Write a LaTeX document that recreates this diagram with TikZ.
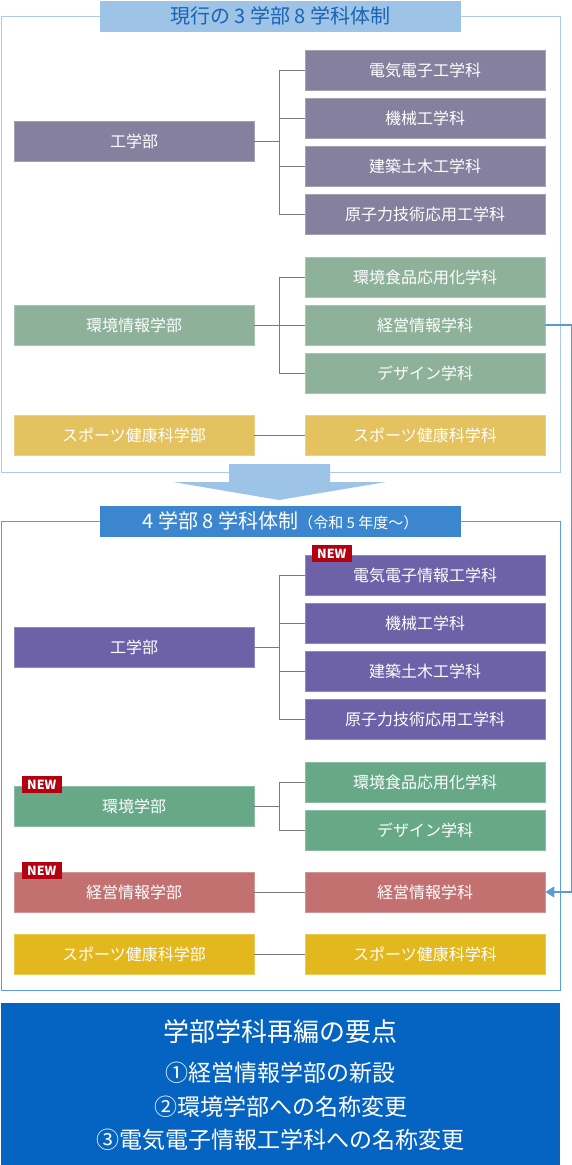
\documentclass[tikz,border=0pt]{standalone}
\usepackage{fontspec}
\setmainfont{Noto Sans CJK JP}
\usetikzlibrary{arrows.meta}

\definecolor{koA}{HTML}{85809E}
\definecolor{kanA}{HTML}{8DB299}
\definecolor{spA}{HTML}{E4C25F}
\definecolor{koB}{HTML}{6D62A8}
\definecolor{kanB}{HTML}{67A987}
\definecolor{keiB}{HTML}{C37071}
\definecolor{spB}{HTML}{E3B81E}
\definecolor{frameA}{HTML}{A9CCEB}
\definecolor{frameB}{HTML}{5E9CD8}
\definecolor{headA}{HTML}{9DC3E6}
\definecolor{headAtext}{HTML}{1B63B5}
\definecolor{headB}{HTML}{3B86CF}
\definecolor{sumblue}{HTML}{0563C1}
\definecolor{newred}{HTML}{B50010}
\definecolor{linegray}{HTML}{7A7A7A}
\definecolor{linkblue}{HTML}{5B9BD5}

\tikzset{
    dept/.style={fill=#1, draw=#1!75!white, line width=0.8pt, minimum width=240pt, minimum height=40pt,
        inner sep=0pt, text=white, font=\fontsize{16}{16}\selectfont},
    tree/.style={draw=linegray, line width=1pt},
    newtag/.style={fill=newred, text=white, font=\bfseries\fontsize{12.5}{12.5}\selectfont,
        minimum width=40pt, minimum height=17pt, inner sep=0pt, anchor=south west},
    headbar/.style={minimum width=361pt, minimum height=31pt, inner sep=0pt, font=\fontsize{20}{20}\selectfont},
    point/.style={text=white, font=\fontsize{23}{23}\selectfont},
}

\begin{document}
\begin{tikzpicture}[x=1pt, y=-1pt]
    \useasboundingbox (0,0) rectangle (572,1165);

    % current organisation
    \draw[frameA, line width=1pt] (1,16) rectangle (560,472);
    \node[headbar, fill=headA, text=headAtext] (headA) at (280.5,16) {現行の 3 学部 8 学科体制};

    \node[dept=koA] (kogakuA) at (134,141) {工学部};
    \node[dept=koA] (denkiA) at (425,70) {電気電子工学科};
    \node[dept=koA] (kikaiA) at (425,118) {機械工学科};
    \node[dept=koA] (kenchikuA) at (425,166) {建築土木工学科};
    \node[dept=koA] (genshiA) at (425,214) {原子力技術応用工学科};

    \node[dept=kanA] (kankyoA) at (134,325) {環境情報学部};
    \node[dept=kanA] (shokuhinA) at (425,277) {環境食品応用化学科};
    \node[dept=kanA] (keieiA) at (425,325) {経営情報学科};
    \node[dept=kanA] (designA) at (425,373) {デザイン学科};

    \node[dept=spA] (sportsA) at (134,435) {スポーツ健康科学部};
    \node[dept=spA] (sportsdA) at (425,435) {スポーツ健康科学科};

    \coordinate (jkoA) at (279,141);
    \draw[tree] (kogakuA.east) -- (jkoA);
    \draw[tree] (jkoA |- denkiA.west) -- (jkoA |- genshiA.west);
    \foreach \d in {denkiA,kikaiA,kenchikuA,genshiA}
        \draw[tree] (jkoA |- \d.west) -- (\d.west);

    \coordinate (jkanA) at (279,325);
    \draw[tree] (kankyoA.east) -- (jkanA);
    \draw[tree] (jkanA |- shokuhinA.west) -- (jkanA |- designA.west);
    \foreach \d in {shokuhinA,keieiA,designA}
        \draw[tree] (jkanA |- \d.west) -- (\d.west);

    \draw[tree] (sportsA.east) -- (sportsdA.west);

    \fill[headA] (229,464) -- (330,464) -- (330,482) -- (386,482) -- (279,500) -- (173,482) -- (229,482) -- cycle;

    % from 2023
    \draw[frameB, line width=1pt] (1,521) rectangle (560,990);
    \node[headbar, fill=headB, text=white] (headB) at (280.5,521)
        {4 学部 8 学科体制{\fontsize{15}{15}\selectfont （令和 5 年度～）}};

    \node[dept=koB] (kogakuB) at (134,647) {工学部};
    \node[dept=koB] (denkiB) at (425,575) {電気電子情報工学科};
    \node[dept=koB] (kikaiB) at (425,623) {機械工学科};
    \node[dept=koB] (kenchikuB) at (425,671) {建築土木工学科};
    \node[dept=koB] (genshiB) at (425,719) {原子力技術応用工学科};

    \node[dept=kanB] (kankyoB) at (134,806) {環境学部};
    \node[dept=kanB] (shokuhinB) at (425,782) {環境食品応用化学科};
    \node[dept=kanB] (designB) at (425,830) {デザイン学科};

    \node[dept=keiB] (keieiB) at (134,892) {経営情報学部};
    \node[dept=keiB] (keieidB) at (425,892) {経営情報学科};

    \node[dept=spB] (sportsB) at (134,954) {スポーツ健康科学部};
    \node[dept=spB] (sportsdB) at (425,954) {スポーツ健康科学科};

    \node[newtag] (newdenki) at ([shift={(7,8)}]denkiB.north west) {NEW};
    \node[newtag] (newkankyo) at ([shift={(8,8)}]kankyoB.north west) {NEW};
    \node[newtag] (newkeiei) at ([shift={(8,8)}]keieiB.north west) {NEW};

    \coordinate (jkoB) at (279,647);
    \draw[tree] (kogakuB.east) -- (jkoB);
    \draw[tree] (jkoB |- denkiB.west) -- (jkoB |- genshiB.west);
    \foreach \d in {denkiB,kikaiB,kenchikuB,genshiB}
        \draw[tree] (jkoB |- \d.west) -- (\d.west);

    \coordinate (jkanB) at (279,806);
    \draw[tree] (kankyoB.east) -- (jkanB);
    \draw[tree] (jkanB |- shokuhinB.west) -- (jkanB |- designB.west);
    \foreach \d in {shokuhinB,designB}
        \draw[tree] (jkanB |- \d.west) -- (\d.west);

    \draw[tree] (keieiB.east) -- (keieidB.west);
    \draw[tree] (sportsB.east) -- (sportsdB.west);

    \draw[linkblue, line width=1.5pt, -{Triangle[length=9pt, width=11pt]}]
        (keieiA.east) -- ++(26,0) |- (keieidB.east);

    % summary
    \fill[sumblue] (1,1003) rectangle (560,1165);
    \node[text=white, font=\fontsize{26}{26}\selectfont] (sumtitle) at (280.5,1032) {学部学科再編の要点};
    \node[point] (point1) at (280.5,1073) {①経営情報学部の新設};
    \node[point] (point2) at (280.5,1107) {②環境学部への名称変更};
    \node[point] (point3) at (280.5,1140) {③電気電子情報工学科への名称変更};
\end{tikzpicture}
\end{document}
